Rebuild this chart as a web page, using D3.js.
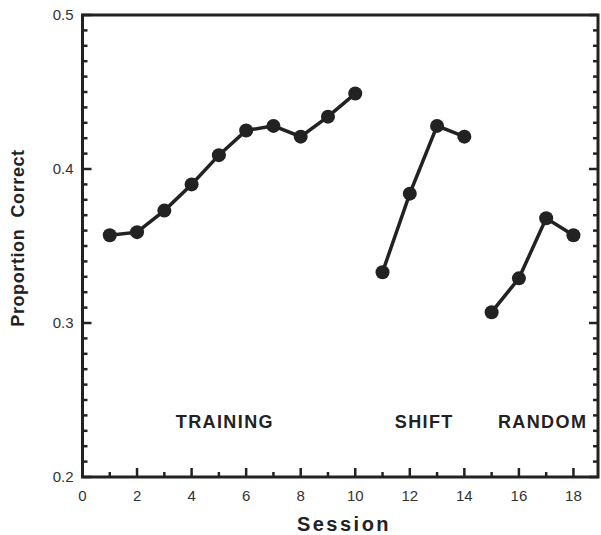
<!DOCTYPE html>
<html>
<head>
<meta charset="utf-8">
<script src="https://cdn.jsdelivr.net/npm/d3@7"></script>
<style>
  body { margin: 0; background: #fff; }
  text { font-family: "Liberation Sans", Arial, sans-serif; fill: #222; }
</style>
</head>
<body>
<div id="chart"></div>
<script>
const width = 601;
const height = 535;

// sessions & proportion correct, one array pair per phase
const trainingSessions = [1, 2, 3, 4, 5, 6, 7, 8, 9, 10];
const trainingValues = [0.357, 0.359, 0.373, 0.390, 0.409, 0.425, 0.428, 0.421, 0.434, 0.449];
const shiftSessions = [11, 12, 13, 14];
const shiftValues = [0.333, 0.384, 0.428, 0.421];
const randomSessions = [15, 16, 17, 18];
const randomValues = [0.307, 0.329, 0.368, 0.357];

const phaseLabels = ['TRAINING', 'SHIFT', 'RANDOM'];
const phaseLabelX = [5.22, 12.53, 16.87];
const phaseLabelY = 0.232;

const xTicks = [0, 2, 4, 6, 8, 10, 12, 14, 16, 18];
const yTicks = [0.2, 0.3, 0.4, 0.5];

const x = d3.scaleLinear().domain([0, 18.9]).range([82.5, 598]);
const y = d3.scaleLinear().domain([0.2, 0.5]).range([477, 15]);

const svg = d3.select('#chart')
  .append('svg')
    .attr('width', width)
    .attr('height', height);

const ink = '#222';

// frame
svg.append('rect')
  .attr('x', x(0)).attr('y', y(0.5))
  .attr('width', x(18.9) - x(0)).attr('height', y(0.2) - y(0.5))
  .attr('fill', 'none').attr('stroke', ink).attr('stroke-width', 3);

// y ticks: minor every 0.01, major every 0.1, pointing inward on left and right
const yMinor = d3.range(0, 31).map(i => 0.2 + i * 0.01);
yMinor.forEach(v => {
  const major = Math.abs(v * 10 - Math.round(v * 10)) < 1e-6;
  const len = major ? 9 : 5;
  svg.append('line')
    .attr('x1', x(0)).attr('x2', x(0) + len)
    .attr('y1', y(v)).attr('y2', y(v))
    .attr('stroke', ink).attr('stroke-width', 2.5);
  svg.append('line')
    .attr('x1', x(18.9)).attr('x2', x(18.9) - len)
    .attr('y1', y(v)).attr('y2', y(v))
    .attr('stroke', ink).attr('stroke-width', 2.5);
});

// x ticks inward
d3.range(1, 19).forEach(v => {
  const len = v % 2 === 0 ? 9 : 5;
  svg.append('line')
    .attr('x1', x(v)).attr('x2', x(v))
    .attr('y1', y(0.2)).attr('y2', y(0.2) - len)
    .attr('stroke', ink).attr('stroke-width', 2.5);
});

// tick labels
svg.selectAll('.ylab')
  .data(yTicks)
  .enter().append('text')
    .attr('x', x(0) - 9)
    .attr('y', d => y(d) + 5)
    .attr('text-anchor', 'end')
    .style('font-size', '15px')
    .style('fill', '#333')
    .text(d => d.toFixed(1));

svg.selectAll('.xlab')
  .data(xTicks)
  .enter().append('text')
    .attr('x', d => x(d))
    .attr('y', y(0.2) + 24)
    .attr('text-anchor', 'middle')
    .style('font-size', '15px')
    .style('fill', '#333')
    .text(d => d);

// axis titles
svg.append('text')
  .attr('x', 344).attr('y', 531)
  .attr('text-anchor', 'middle')
  .style('font-size', '20px').style('font-weight', 'bold')
  .style('letter-spacing', '2.5px')
  .text('Session');

svg.append('text')
  .attr('transform', 'translate(24,238) rotate(-90)')
  .attr('text-anchor', 'middle')
  .style('font-size', '18px').style('font-weight', 'bold')
  .style('letter-spacing', '0.6px')
  .style('white-space', 'pre')
  .text('Proportion  Correct');

// phase labels
svg.selectAll('.phase')
  .data(phaseLabels)
  .enter().append('text')
    .attr('x', (d, i) => x(phaseLabelX[i]))
    .attr('y', y(phaseLabelY))
    .attr('text-anchor', 'middle')
    .style('font-size', '18px').style('font-weight', 'bold')
    .style('letter-spacing', '1.4px')
    .text(d => d);

// series
const series = [
  { s: trainingSessions, v: trainingValues },
  { s: shiftSessions, v: shiftValues },
  { s: randomSessions, v: randomValues },
];
const line = d3.line().x(d => x(d[0])).y(d => y(d[1]));

series.forEach(ser => {
  const pts = ser.s.map((s, i) => [s, ser.v[i]]);
  svg.append('path')
    .attr('d', line(pts))
    .attr('fill', 'none').attr('stroke', ink).attr('stroke-width', 3.5);
  svg.selectAll(null)
    .data(pts)
    .enter().append('circle')
      .attr('cx', d => x(d[0]))
      .attr('cy', d => y(d[1]))
      .attr('r', 7)
      .attr('fill', ink);
});
</script>
</body>
</html>
